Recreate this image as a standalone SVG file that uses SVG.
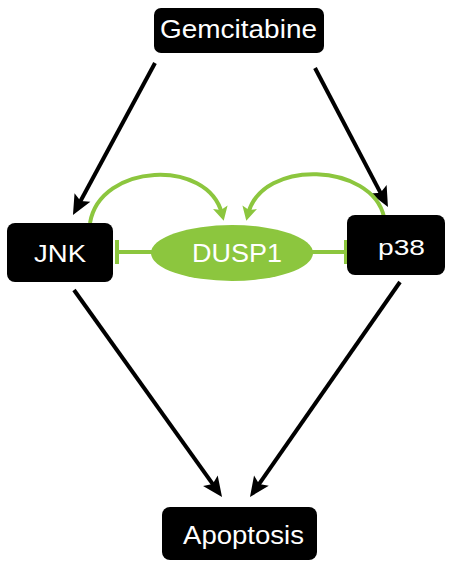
<svg xmlns="http://www.w3.org/2000/svg" width="449" height="563" viewBox="0 0 449 563">
  <style>
    .box { fill: #000; }
    .lbl { fill: #fff; font-family: "Liberation Sans", Arial, sans-serif; text-anchor: start; }
    .act { stroke: #000; stroke-width: 4; fill: none; marker-end: url(#blackHead); }
    .g { stroke: #8cc63e; stroke-width: 4; fill: none; }
    .garc { marker-end: url(#greenHead); }
  </style>
  <defs>
    <!-- tip sits 10 units past the end of the line -->
    <marker id="blackHead" markerWidth="20" markerHeight="20" refX="0" refY="0" orient="auto" markerUnits="userSpaceOnUse" overflow="visible">
      <path d="M 10 0 L -10 -9 L -6 0 L -10 9 Z" fill="#000"/>
    </marker>
    <marker id="greenHead" markerWidth="16" markerHeight="16" refX="0" refY="0" orient="auto" markerUnits="userSpaceOnUse" overflow="visible">
      <path d="M 7 0 L -7 -7.5 L -4 0 L -7 7.5 Z" fill="#8cc63e"/>
    </marker>
  </defs>

  <g id="connectors">
    <!-- activation arrows -->
    <line class="act" x1="155" y1="63" x2="77.7" y2="206.2"/>
    <line class="act" x1="315" y1="68" x2="383.3" y2="198.1"/>
    <line class="act" x1="74" y1="290" x2="216.2" y2="488.9"/>
    <line class="act" x1="400" y1="282" x2="255.7" y2="488.8"/>
    <!-- DUSP1 feedback arcs -->
    <path class="g garc" d="M 90 223 C 100 163, 208 158, 222 214"/>
    <path class="g garc" d="M 384 217 C 372 163, 262 158, 248 214"/>
    <!-- inhibition -->
    <line class="g" x1="152" y1="252" x2="117" y2="252"/>
    <line class="g" x1="117" y1="240" x2="117" y2="264"/>
    <line class="g" x1="312" y1="252" x2="346" y2="252"/>
    <line class="g" x1="346" y1="240" x2="346" y2="264"/>
  </g>

  <g id="gemcitabine">
    <rect class="box" x="154" y="8" width="170" height="45" rx="7"/>
    <text class="lbl" x="160" y="38" font-size="25" textLength="157" lengthAdjust="spacingAndGlyphs">Gemcitabine</text>
  </g>
  <g id="jnk">
    <rect class="box" x="7" y="223" width="106" height="59" rx="8"/>
    <text class="lbl" x="34" y="262" font-size="24" textLength="52" lengthAdjust="spacingAndGlyphs">JNK</text>
  </g>
  <g id="p38">
    <rect class="box" x="347" y="215" width="98" height="60" rx="8"/>
    <text class="lbl" x="378" y="255" font-size="22.5" textLength="47" lengthAdjust="spacingAndGlyphs">p38</text>
  </g>
  <g id="dusp1">
    <ellipse cx="232" cy="253" rx="81" ry="28" fill="#8cc63e"/>
    <text class="lbl" x="192" y="262" font-size="26" textLength="90" lengthAdjust="spacingAndGlyphs">DUSP1</text>
  </g>
  <g id="apoptosis">
    <rect class="box" x="162" y="507" width="155" height="53" rx="8"/>
    <text class="lbl" x="183" y="544" font-size="26" textLength="121" lengthAdjust="spacingAndGlyphs">Apoptosis</text>
  </g>
</svg>
